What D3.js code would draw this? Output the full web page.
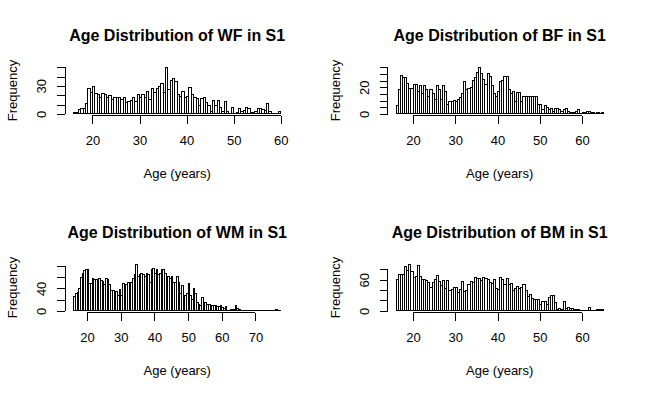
<!DOCTYPE html>
<html>
<head>
<meta charset="utf-8">
<script src="https://cdn.jsdelivr.net/npm/d3@7"></script>
<style>
body { margin: 0; background: #ffffff; }
text { font-family: "Liberation Sans", Arial, sans-serif; fill: #000000; }
</style>
</head>
<body>
<div id="chart"></div>
<script>
// histogram counts, bins of half a year
var binWidth = 0.5;
var groups = ["WF", "BF", "WM", "BM"];

var wfFrom = 16;
var wfCounts = [1, 1, 5, 6, 6, 11, 27, 23, 29, 22, 21, 17, 22, 21, 18, 20, 15, 17, 17, 17,
    15, 17, 12, 13, 14, 18, 13, 21, 18, 21, 18, 24, 15, 27, 23, 27, 29, 33, 23, 50,
    26, 36, 38, 35, 21, 19, 24, 17, 19, 28, 21, 17, 16, 9, 16, 18, 12, 9, 2, 14,
    9, 14, 7, 3, 13, 3, 0, 7, 0, 1, 6, 3, 4, 7, 6, 1, 1, 2, 6, 6,
    5, 4, 11, 2, 0, 0, 0, 2];

var bfFrom = 16;
var bfCounts = [6, 18, 29, 27, 27, 23, 19, 19, 22, 22, 17, 21, 15, 21, 18, 13, 18, 15, 11, 21,
    18, 11, 21, 17, 7, 9, 9, 10, 9, 11, 12, 15, 24, 18,
    19, 20, 25, 27, 31, 35, 30, 26, 22, 30, 28, 21, 15, 13, 17, 24, 25, 28, 28, 18,
    15, 17, 9, 16, 16, 9, 13, 13, 13, 13, 13, 13, 13, 7, 7, 3, 6, 5, 3, 4,
    2, 4, 4, 3, 2, 3, 4, 2, 1, 1, 1, 2, 3, 0, 1, 1, 2, 2, 1, 1,
    0, 1, 0, 1];

var wmFrom = 16;
var wmCounts = [25, 30, 32, 40, 59, 67, 71, 73, 74, 48, 49, 58, 56, 56, 49, 58, 54, 52, 47, 58,
    55, 47, 36, 37, 30, 34, 27, 38, 28, 49, 47, 47, 50, 40, 50, 58, 65, 83, 61, 64,
    67, 65, 61, 66, 64, 50, 73, 75, 67, 73, 64, 66, 74, 74, 67, 58, 61, 58, 61, 50,
    51, 61, 51, 31, 45, 27, 27, 30, 49, 27, 20, 39, 30, 15, 12, 9, 23, 15, 15, 11,
    12, 9, 9, 9, 10, 8, 8, 10, 6, 5, 8, 0, 0, 2, 2, 2, 9, 5, 2, 0,
    0, 0, 0, 0, 0, 0, 0, 0, 0, 0, 0, 0, 0, 0, 0, 0, 0, 0, 0, 1,
    2, 0, 0];

var bmFrom = 16;
var bmCounts = [61, 71, 71, 70, 86, 77, 90, 76, 65, 66, 88, 66, 61, 60, 58, 55, 46, 54, 61, 68,
    57, 49, 59, 44, 58, 39, 41, 45, 45, 35, 41, 57, 37, 39, 50, 57, 55, 65, 63, 62,
    58, 65, 63, 60, 54, 52, 60, 44, 41, 65, 60, 50, 62, 50, 53, 39, 44, 47, 44, 46,
    51, 40, 27, 31, 23, 22, 21, 21, 12, 18, 18, 12, 25, 30, 29, 16, 3, 5, 3, 18,
    4, 6, 4, 5, 3, 2, 2, 0, 1, 1, 1, 6, 1, 0, 0, 2, 2, 2];

var xTicksWF = [20, 30, 40, 50, 60];
var xTicksBF = [20, 30, 40, 50, 60];
var xTicksWM = [20, 30, 40, 50, 60, 70];
var xTicksBM = [20, 30, 40, 50, 60];
var yTicksWF = [0, 10, 20, 30, 40, 50];
var yTicksBF = [0, 5, 10, 15, 20, 25, 30, 35];
var yTicksWM = [0, 20, 40, 60, 80];
var yTicksBM = [0, 20, 40, 60, 80];
// R drops the tick labels that would overlap
var yLabelsWF = [0, 30];
var yLabelsBF = [0, 20];
var yLabelsWM = [0, 40];
var yLabelsBM = [0, 60];

var panels = [
    { name: groups[0], from: wfFrom, counts: wfCounts, xt: xTicksWF, yt: yTicksWF, yl: yLabelsWF },
    { name: groups[1], from: bfFrom, counts: bfCounts, xt: xTicksBF, yt: yTicksBF, yl: yLabelsBF },
    { name: groups[2], from: wmFrom, counts: wmCounts, xt: xTicksWM, yt: yTicksWM, yl: yLabelsWM },
    { name: groups[3], from: bmFrom, counts: bmCounts, xt: xTicksBM, yt: yTicksBM, yl: yLabelsBM }
];

var W = 645, H = 394;
var panelW = W / 2, panelH = H / 2;
var lineH = 15.94;
var mLeft = 4.1 * lineH, mRight = 2.1 * lineH, mTop = 4.1 * lineH, mBottom = 5.1 * lineH;

var svg = d3.select("#chart")
    .append("svg")
    .attr("width", W)
    .attr("height", H);

panels.forEach(function (p, k) {
    var ox = (k % 2) * panelW;
    var oy = Math.floor(k / 2) * panelH;
    var g = svg.append("g").attr("transform", "translate(" + ox + "," + oy + ")");

    var to = p.from + p.counts.length * binWidth;
    var span = to - p.from;
    var maxC = d3.max(p.counts);

    var x = d3.scaleLinear()
        .domain([p.from - 0.04 * span, to + 0.04 * span])
        .range([mLeft, panelW - mRight]);
    var y = d3.scaleLinear()
        .domain([-0.04 * maxC, 1.04 * maxC])
        .range([panelH - mBottom, mTop]);

    var bars = g.append("g").attr("shape-rendering", "crispEdges");

    // empty bins still leave their bottom edge, as in R
    bars.append("line")
        .attr("x1", x(p.from))
        .attr("x2", x(to))
        .attr("y1", y(0))
        .attr("y2", y(0))
        .attr("stroke", "#000000")
        .attr("stroke-width", 1);

    bars.selectAll("rect")
        .data(p.counts)
        .enter()
        .append("rect")
        .attr("x", function (d, i) { return x(p.from + i * binWidth); })
        .attr("y", function (d) { return y(d); })
        .attr("width", function (d, i) { return x(p.from + (i + 1) * binWidth) - x(p.from + i * binWidth); })
        .attr("height", function (d) { return y(0) - y(d); })
        .attr("fill", "#ffffff")
        .attr("stroke", "#000000")
        .attr("stroke-width", 1);

    // x axis
    var xa = g.append("g")
        .attr("transform", "translate(0," + (panelH - mBottom) + ")")
        .attr("shape-rendering", "crispEdges")
        .call(d3.axisBottom(x).tickValues(p.xt).tickSize(8).tickSizeOuter(0).tickPadding(12));
    xa.select(".domain")
        .attr("d", "M" + x(p.xt[0]) + ",0H" + x(p.xt[p.xt.length - 1]));
    xa.selectAll("text")
        .attr("font-size", "13px")
        .attr("font-family", "Liberation Sans, Arial, sans-serif");

    // y axis
    var ya = g.append("g")
        .attr("transform", "translate(" + mLeft + ",0)")
        .attr("shape-rendering", "crispEdges")
        .call(d3.axisLeft(y).tickValues(p.yt).tickSize(8).tickSizeOuter(0)
            .tickFormat(function (d) { return p.yl.indexOf(d) >= 0 ? d : ""; }));
    ya.select(".domain")
        .attr("d", "M0," + y(p.yt[0]) + "V" + y(p.yt[p.yt.length - 1]));
    ya.selectAll("text")
        .attr("font-size", "13px")
        .attr("font-family", "Liberation Sans, Arial, sans-serif")
        .attr("text-anchor", "middle")
        .attr("x", 0)
        .attr("y", -19)
        .attr("dy", 0)
        .attr("transform", "rotate(-90)");

    svg.selectAll(".tick line, .domain").attr("stroke", "#000000");
    svg.selectAll(".tick text").attr("fill", "#000000");

    var cx = (mLeft + panelW - mRight) / 2;
    g.append("text")
        .attr("x", cx)
        .attr("y", 41)
        .attr("text-anchor", "middle")
        .attr("font-size", "16px")
        .attr("font-weight", "bold")
        .text("Age Distribution of " + p.name + " in S1");

    g.append("text")
        .attr("x", cx)
        .attr("y", 177.5)
        .attr("text-anchor", "middle")
        .attr("font-size", "13px")
        .text("Age (years)");

    g.append("text")
        .attr("transform", "translate(17," + ((mTop + panelH - mBottom) / 2) + ") rotate(-90)")
        .attr("text-anchor", "middle")
        .attr("font-size", "13px")
        .text("Frequency");
});
</script>
</body>
</html>
